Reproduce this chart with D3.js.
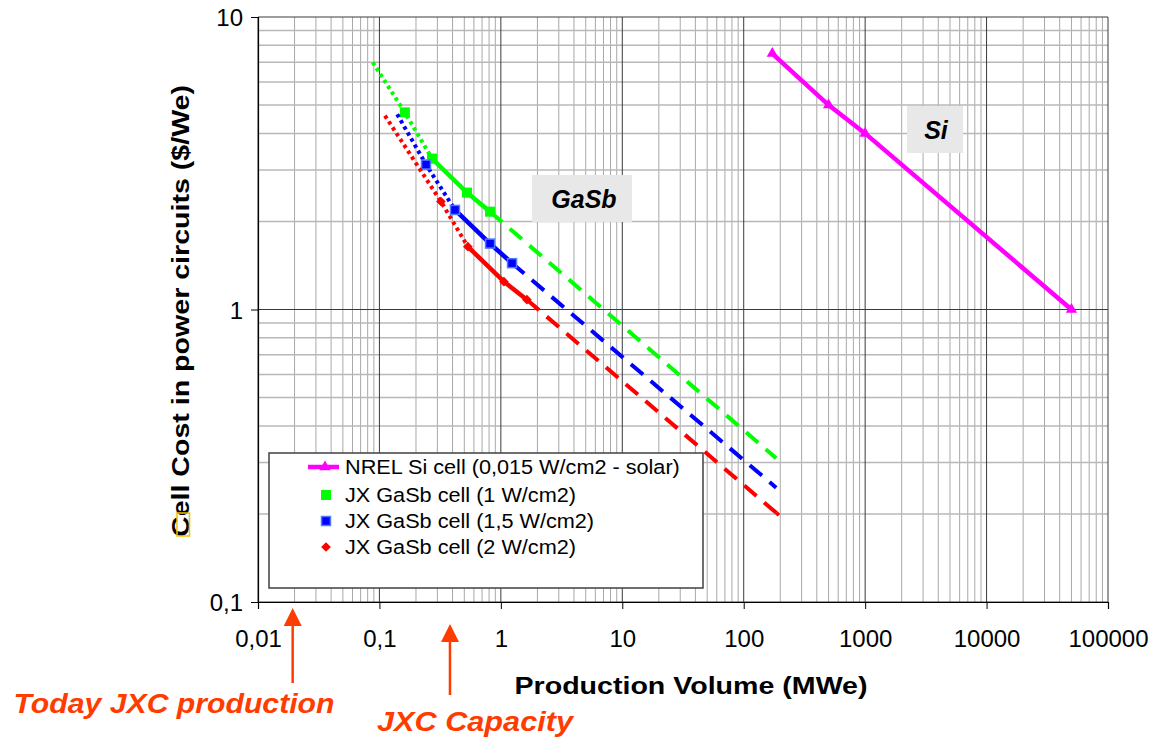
<!DOCTYPE html>
<html>
<head>
<meta charset="utf-8">
<script src="https://cdn.jsdelivr.net/npm/d3@7"></script>
<style>
  body { margin: 0; background: #fff; }
  svg { display: block; font-family: "Liberation Sans", Arial, sans-serif; }
</style>
</head>
<body>
<svg id="chart" width="1157" height="739"></svg>
<script>
// ---- data ----
const xTicks = [0.01, 0.1, 1, 10, 100, 1000, 10000, 100000]
const xTickLabels = ["0,01", "0,1", "1", "10", "100", "1000", "10000", "100000"]
const yTicks = [0.1, 1, 10]
const yTickLabels = ["0,1", "1", "10"]

// NREL Si cell
const siX = [172, 500, 1000, 50000]
const siY = [7.5, 5.0, 4.0, 1.0]

// JX GaSb 1 W/cm2 (start of dotted projection, markers, end of dashed projection)
const g1Start = [0.088, 7.0]
const g1X = [0.162, 0.271, 0.526, 0.815]
const g1Y = [4.72, 3.28, 2.51, 2.16]
const g1End = [185, 0.31]

// JX GaSb 1,5 W/cm2
const g15Start = [0.14, 4.65]
const g15X = [0.242, 0.419, 0.815, 1.236]
const g15Y = [3.13, 2.19, 1.68, 1.44]
const g15End = [185, 0.246]

// JX GaSb 2 W/cm2
const g2Start = [0.111, 4.6]
const g2X = [0.321, 0.535, 1.06, 1.64]
const g2Y = [2.34, 1.64, 1.245, 1.08]
const g2End = [190, 0.2]

const legendLabels = [
  "NREL Si cell (0,015 W/cm2 - solar)",
  "JX GaSb cell (1 W/cm2)",
  "JX GaSb cell (1,5 W/cm2)",
  "JX GaSb cell (2 W/cm2)"
]

const arrowX = [0.0193, 0.381]
const arrowLabels = ["Today JXC production", "JXC Capacity"]

// ---- layout ----
const pLeft = 258, pRight = 1108, pTop = 17, pBottom = 602
const svg = d3.select("#chart")

const x = d3.scaleLog().domain([0.01, 100000]).range([pLeft, pRight])
const y = d3.scaleLog().domain([0.1, 10]).range([pBottom, pTop])

// minor grid values
const minorX = []
for (let e = -2; e < 5; e++) for (let m = 2; m < 10; m++) minorX.push(m * Math.pow(10, e))
const minorY = []
for (let e = -1; e < 1; e++) for (let m = 2; m < 10; m++) minorY.push(m * Math.pow(10, e))

const grid = svg.append("g")
grid.selectAll(".mx").data(minorX).join("line")
  .attr("x1", d => x(d)).attr("x2", d => x(d))
  .attr("y1", pTop).attr("y2", pBottom)
  .attr("stroke", "#a8a8a8").attr("stroke-width", 1)
grid.selectAll(".my").data(minorY).join("line")
  .attr("x1", pLeft).attr("x2", pRight)
  .attr("y1", d => y(d)).attr("y2", d => y(d))
  .attr("stroke", "#b8b8b8").attr("stroke-width", 1.5)
grid.selectAll(".Mx").data(xTicks).join("line")
  .attr("x1", d => x(d)).attr("x2", d => x(d))
  .attr("y1", pTop).attr("y2", pBottom)
  .attr("stroke", "#3a3a3a").attr("stroke-width", 1)
grid.selectAll(".My").data(yTicks).join("line")
  .attr("x1", pLeft).attr("x2", pRight)
  .attr("y1", d => y(d)).attr("y2", d => y(d))
  .attr("stroke", "#3a3a3a").attr("stroke-width", 1)

// axes
const xAxis = d3.axisBottom(x).tickValues(xTicks)
  .tickFormat((d, i) => xTickLabels[i]).tickSize(7).tickPadding(21)
const yAxis = d3.axisLeft(y).tickValues(yTicks)
  .tickFormat((d, i) => yTickLabels[i]).tickSize(7).tickPadding(8)

const gx = svg.append("g").attr("transform", `translate(0,${pBottom})`).call(xAxis)
const gy = svg.append("g").attr("transform", `translate(${pLeft},0)`).call(yAxis)
for (const g of [gx, gy]) {
  g.select(".domain").attr("stroke", "#000").attr("stroke-width", 1.2)
  g.selectAll(".tick line").attr("stroke", "#000")
  g.selectAll("text").attr("fill", "#000").attr("font-size", 24)
    .attr("font-family", '"Liberation Sans", Arial, sans-serif')
}
gy.selectAll("text").attr("dy", "0.36em")

// axis titles
svg.append("text")
  .attr("x", 691).attr("y", 694).attr("text-anchor", "middle")
  .attr("font-weight", "bold").attr("font-size", 23.5)
  .attr("textLength", 353).attr("lengthAdjust", "spacingAndGlyphs")
  .text("Production Volume (MWe)")
svg.append("text")
  .attr("transform", "translate(189,311) rotate(-90)").attr("text-anchor", "middle")
  .attr("font-weight", "bold").attr("font-size", 23)
  .attr("textLength", 452).attr("lengthAdjust", "spacingAndGlyphs")
  .text("Cell Cost in power circuits ($/We)")
svg.append("rect")
  .attr("x", 177).attr("y", 513).attr("width", 12.5).attr("height", 23)
  .attr("fill", "none").attr("stroke", "#f2c200").attr("stroke-width", 1.5)

// ---- series ----
const line = d3.line().x(d => x(d[0])).y(d => y(d[1]))
const zip = (a, b) => a.map((v, i) => [v, b[i]])

function gasb(start, xs, ys, end, color) {
  const pts = zip(xs, ys)
  const g = svg.append("g")
  g.append("path").datum([start, pts[0], pts[1]]).attr("d", line)
    .attr("fill", "none").attr("stroke", color).attr("stroke-width", 4)
    .attr("stroke-dasharray", "3.5,3.5")
  g.append("path").datum([pts[pts.length - 1], end]).attr("d", line)
    .attr("fill", "none").attr("stroke", color).attr("stroke-width", 4)
    .attr("stroke-dasharray", "16,10")
  g.append("path").datum(pts.slice(1)).attr("d", line)
    .attr("fill", "none").attr("stroke", color).attr("stroke-width", 4.5)
  return g
}

const gGreen = gasb(g1Start, g1X, g1Y, g1End, "#00ff00")
gGreen.selectAll("rect").data(zip(g1X, g1Y)).join("rect")
  .attr("x", d => x(d[0]) - 5).attr("y", d => y(d[1]) - 5)
  .attr("width", 10).attr("height", 10).attr("fill", "#00ff00")

const gBlue = gasb(g15Start, g15X, g15Y, g15End, "#0000ff")
gBlue.selectAll("rect").data(zip(g15X, g15Y)).join("rect")
  .attr("x", d => x(d[0]) - 4.5).attr("y", d => y(d[1]) - 4.5)
  .attr("width", 9).attr("height", 9).attr("fill", "#0000ff")
  .attr("stroke", "#4d7dff").attr("stroke-width", 1.5)

const gRed = gasb(g2Start, g2X, g2Y, g2End, "#ff0000")
const diamond = d3.symbol().type(d3.symbolDiamond2).size(60)
const smallDiamond = d3.symbol().type(d3.symbolDiamond2).size(18)
gRed.selectAll(".mk").data(zip(g2X, g2Y).concat([g2End])).join("path")
  .attr("d", (d, i) => i < g2X.length ? diamond() : smallDiamond())
  .attr("transform", d => `translate(${x(d[0])},${y(d[1])})`).attr("fill", "#ff0000")

const siPts = zip(siX, siY)
svg.append("path").datum(siPts).attr("d", line)
  .attr("fill", "none").attr("stroke", "#ff00ff").attr("stroke-width", 4.5)
const tri = d3.symbol().type(d3.symbolTriangle).size(55)
svg.selectAll(".si").data(siPts).join("path")
  .attr("d", tri()).attr("fill", "#ff00ff")
  .attr("transform", d => `translate(${x(d[0])},${y(d[1])})`)

// ---- labels in boxes ----
function boxLabel(bx, by, bw, bh, tx, ty, txt, size) {
  svg.append("rect").attr("x", bx).attr("y", by).attr("width", bw).attr("height", bh)
    .attr("fill", "#e8e8e8")
  svg.append("text").attr("x", tx).attr("y", ty).attr("text-anchor", "middle")
    .attr("font-weight", "bold").attr("font-style", "italic").attr("font-size", size)
    .text(txt)
}
boxLabel(532, 175, 100, 47, 584, 208, "GaSb", 25)
boxLabel(907, 106, 56, 47, 936, 139, "Si", 25)

// ---- legend ----
const lg = svg.append("g")
lg.append("rect").attr("x", 269).attr("y", 453).attr("width", 434).attr("height", 135)
  .attr("fill", "#fff").attr("stroke", "#404040").attr("stroke-width", 1.5)
const rowY = [467, 495, 521, 547]
lg.selectAll("text").data(legendLabels).join("text")
  .attr("transform", (d, i) => `translate(345,${rowY[i] + 7}) scale(1.1,1)`)
  .attr("font-size", 19.7).attr("fill", "#000").text(d => d)
lg.append("line").attr("x1", 308).attr("x2", 339).attr("y1", rowY[0]).attr("y2", rowY[0])
  .attr("stroke", "#ff00ff").attr("stroke-width", 4.5)
lg.append("path").attr("d", tri()).attr("fill", "#ff00ff")
  .attr("transform", `translate(325,${rowY[0]})`)
lg.append("rect").attr("x", 321).attr("y", rowY[1] - 5).attr("width", 10).attr("height", 10)
  .attr("fill", "#00ff00")
lg.append("rect").attr("x", 321.5).attr("y", rowY[2] - 4.5).attr("width", 9).attr("height", 9)
  .attr("fill", "#0000ff").attr("stroke", "#4d7dff").attr("stroke-width", 1.5)
lg.append("path").attr("d", diamond()).attr("fill", "#ff0000")
  .attr("transform", `translate(326,${rowY[3]})`)

// ---- annotations ----
const orange = "#ff3c00"
const arrowTip = [608, 624], arrowBase = [683, 695]
const annX = [174, 475], annY = [713, 731], annW = [321, 196]
arrowX.forEach((v, i) => {
  const ax = x(v)
  svg.append("line").attr("x1", ax).attr("x2", ax)
    .attr("y1", arrowTip[i] + 15).attr("y2", arrowBase[i])
    .attr("stroke", orange).attr("stroke-width", 2.5)
  svg.append("path")
    .attr("d", `M${ax},${arrowTip[i]} L${ax - 9},${arrowTip[i] + 18} L${ax + 9},${arrowTip[i] + 18} Z`)
    .attr("fill", orange)
  svg.append("text").attr("x", annX[i]).attr("y", annY[i]).attr("text-anchor", "middle")
    .attr("font-weight", "bold").attr("font-style", "italic").attr("font-size", 28)
    .attr("textLength", annW[i]).attr("lengthAdjust", "spacingAndGlyphs")
    .attr("fill", orange).text(arrowLabels[i])
})
</script>
</body>
</html>
